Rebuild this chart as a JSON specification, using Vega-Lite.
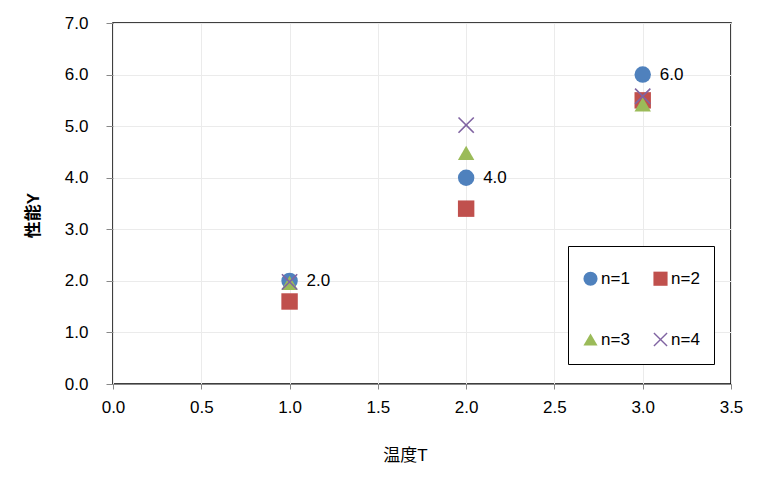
{
  "$schema": "https://vega.github.io/schema/vega-lite/v6.json",
  "autosize": {"type": "none"},
  "width": 618,
  "height": 361,
  "padding": {"left": 113, "top": 23, "right": 31, "bottom": 97},
  "background": "white",
  "data": {
    "values": [
      {"n": "n=1", "T": 1, "Y": 2.0},
      {"n": "n=1", "T": 2, "Y": 4.0},
      {"n": "n=1", "T": 3, "Y": 6.0},
      {"n": "n=2", "T": 1, "Y": 1.6},
      {"n": "n=2", "T": 2, "Y": 3.4},
      {"n": "n=2", "T": 3, "Y": 5.5},
      {"n": "n=3", "T": 1, "Y": 1.96},
      {"n": "n=3", "T": 2, "Y": 4.48},
      {"n": "n=3", "T": 3, "Y": 5.42},
      {"n": "n=4", "T": 1, "Y": 1.98},
      {"n": "n=4", "T": 2, "Y": 5.02},
      {"n": "n=4", "T": 3, "Y": 5.58}
    ]
  },
  "layer": [
    {
      "mark": {"type": "point", "filled": true, "opacity": 1, "size": 270},
      "encoding": {
        "x": {
          "field": "T", "type": "quantitative",
          "scale": {"domain": [0, 3.5], "nice": false, "zero": true},
          "axis": {
            "title": "温度T", "values": [0, 0.5, 1, 1.5, 2, 2.5, 3, 3.5], "format": ".1f",
            "titleX": 292, "titlePadding": 32
          }
        },
        "y": {
          "field": "Y", "type": "quantitative",
          "scale": {"domain": [0, 7], "nice": false},
          "axis": {
            "title": "性能Y", "values": [0, 1, 2, 3, 4, 5, 6, 7], "format": ".1f",
            "domain": false, "titleFontWeight": "bold", "titleY": 192, "titlePadding": 22,
            "labelPadding": 18, "tickSize": 7
          }
        },
        "color": {
          "field": "n", "type": "nominal",
          "scale": {"domain": ["n=1", "n=2", "n=3", "n=4"], "range": ["#4f81bd", "#c0504d", "#9bbb59", "#8064a2"]},
          "legend": {
            "title": " ", "titleFontSize": 8, "titlePadding": 2,
            "orient": "none", "legendX": 455, "legendY": 223, "columns": 2,
            "direction": "horizontal", "columnPadding": 20, "rowPadding": 40, "padding": 14,
            "strokeColor": "black", "fillColor": "white", "symbolSize": 200,
            "labelFontSize": 17, "labelColor": "black", "labelOffset": 2, "symbolOpacity": 1
          }
        },
        "shape": {
          "field": "n", "type": "nominal",
          "scale": {
            "domain": ["n=1", "n=2", "n=3", "n=4"],
            "range": ["circle", "square", "triangle-up", "M-1,-0.86L-0.86,-1L0,-0.14L0.86,-1L1,-0.86L0.14,0L1,0.86L0.86,1L0,0.14L-0.86,1L-1,0.86L-0.14,0Z"]
          }
        }
      }
    },
    {
      "transform": [{"filter": "datum.n == 'n=1'"}],
      "mark": {"type": "text", "align": "left", "baseline": "middle", "dx": 17, "fontSize": 17, "color": "black"},
      "encoding": {
        "x": {"field": "T", "type": "quantitative"},
        "y": {"field": "Y", "type": "quantitative"},
        "text": {"field": "Y", "type": "quantitative", "format": ".1f"}
      }
    }
  ],
  "config": {
    "font": "Liberation Sans, Noto Sans CJK JP",
    "view": {"stroke": "black", "strokeWidth": 1.5},
    "axis": {
      "labelFontSize": 17, "labelColor": "black", "titleFontSize": 17, "titleColor": "black",
      "titleFontWeight": "normal", "gridColor": "#ebebeb", "tickColor": "#888888",
      "domainColor": "#888888", "tickSize": 5, "labelPadding": 10
    },
    "axisX": {"labelFlush": false}
  }
}
